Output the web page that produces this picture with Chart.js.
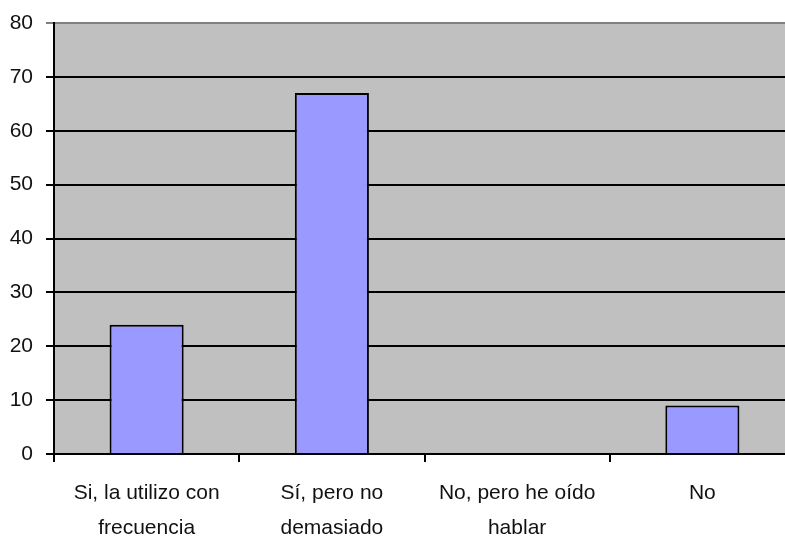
<!DOCTYPE html>
<html>
<head>
<meta charset="utf-8">
<script src="https://cdn.jsdelivr.net/npm/chart.js@4/dist/chart.umd.min.js"></script>
<style>
	html, body { margin: 0; padding: 0; background: #fff; overflow: hidden; }
	#wrap { width: 800px; height: 540px; position: relative; }
</style>
</head>
<body>
<div id="wrap"><canvas id="myChart"></canvas></div>
<script>

const categories = [
	['Si, la utilizo con', 'frecuencia'],
	['Sí, pero no', 'demasiado'],
	['No, pero he oído', 'hablar'],
	['No'],
];

const values = [24, 67, 0, 9];

const y_min = 0;
const y_max = 80;
const y_step = 10;

const font_family = '"Liberation Sans", Arial, sans-serif';

// grey plot background
const plotBackground = {
	id: 'plotBackground',
	beforeDraw(chart)
	{
		const area = chart.chartArea;
		const ctx = chart.ctx;
		ctx.save();
		ctx.fillStyle = '#c0c0c0';
		ctx.fillRect(area.left, area.top, area.right - area.left, area.bottom - area.top);
		ctx.restore();
	}
};

window.onload = function(){

	const canvas = document.getElementById('myChart').getContext('2d');

	new Chart(canvas, {
		type: 'bar',
		data: {
			labels: categories,
			datasets: [{
				data: values,
				backgroundColor: '#9999ff',
				borderColor: '#000000',
				borderWidth: 2,
				categoryPercentage: 1,
				barPercentage: 0.4,
			}],
		},
		options: {
			responsive: true,
			maintainAspectRatio: false,
			animation: false,
			layout: { padding: { top: 23, right: 5, left: 0, bottom: 0 } },
			plugins: {
				legend: { display: false },
				tooltip: { enabled: false },
			},
			scales: {
				x: {
					grid: {
						offset: true,
						drawOnChartArea: false,
						drawTicks: true,
						tickLength: 8,
						color: '#000000',
						lineWidth: 2,
					},
					border: { display: true, color: '#000000', width: 2 },
					ticks: {
						color: '#111111',
						padding: 14,
						maxRotation: 0,
						autoSkip: false,
						font: { family: font_family, size: 21, lineHeight: 1.65 },
					},
					afterFit: (scale) => {
						scale.height = 86;
						scale.paddingLeft = 0;
						scale.paddingRight = 0;
					},
				},
				y: {
					min: y_min,
					max: y_max,
					ticks: {
						stepSize: y_step,
						color: '#111111',
						padding: 13,
						font: { family: font_family, size: 21 },
					},
					grid: {
						color: (c) => (c.tick && c.tick.value === y_max) ? '#808080' : '#000000',
						lineWidth: 2,
						tickLength: 8,
					},
					border: { display: true, color: '#000000', width: 2 },
					afterFit: (scale) => {
						scale.width = 54;
						scale.paddingTop = 0;
						scale.paddingBottom = 0;
					},
				},
			},
		},
		plugins: [plotBackground],
	});
};
</script>
</body>
</html>
